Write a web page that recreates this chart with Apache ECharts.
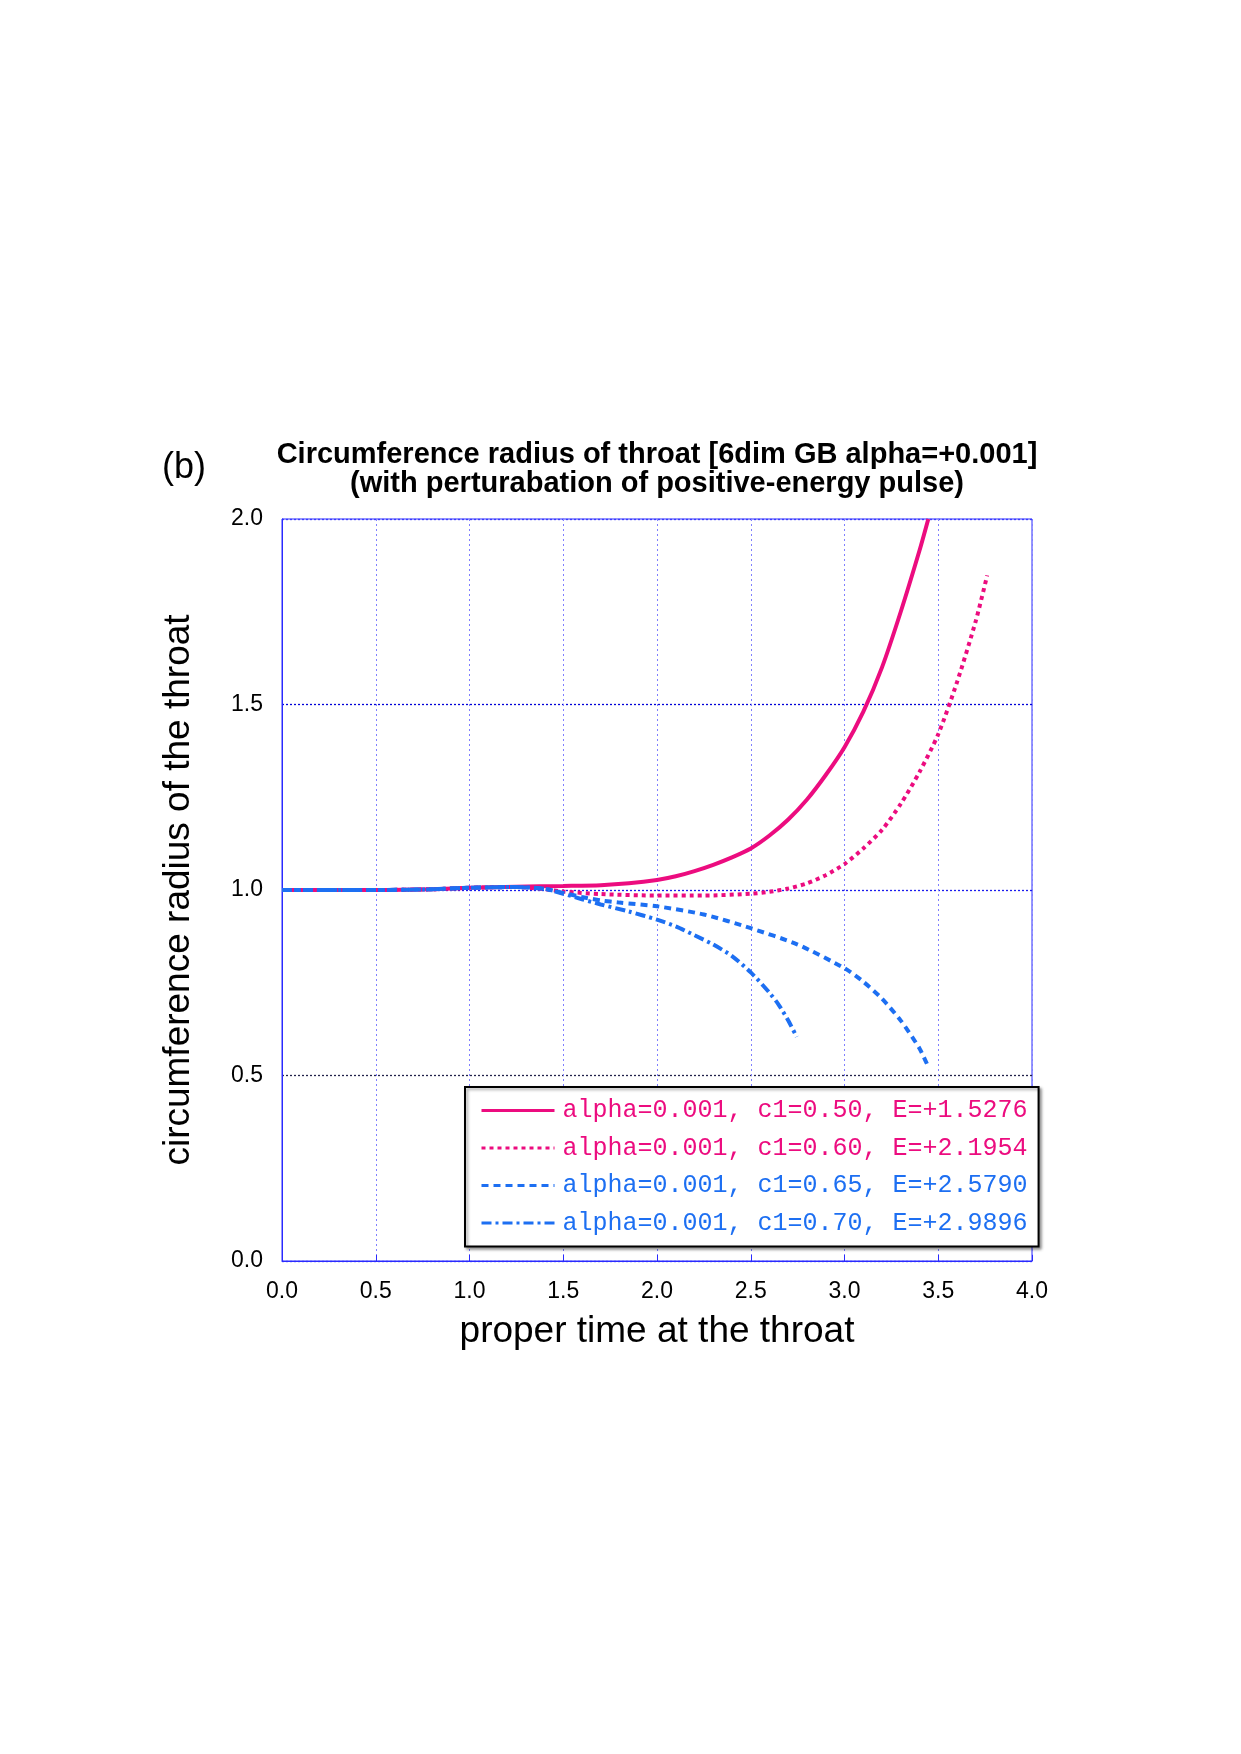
<!DOCTYPE html>
<html>
<head>
<meta charset="utf-8">
<script src="https://cdn.jsdelivr.net/npm/echarts@6/dist/echarts.min.js"></script>
<style>
  html, body { margin: 0; padding: 0; background: #fff; }
  #chart { width: 1241px; height: 1754px; }
</style>
</head>
<body>
<div id="chart"></div>
<script>
// eixo x: tempo próprio na garganta
const xTicks = [0, 0.5, 1.0, 1.5, 2.0, 2.5, 3.0, 3.5, 4.0];
const yTicks = [0, 0.5, 1.0, 1.5, 2.0];

const names = [
  'alpha=0.001, c1=0.50, E=+1.5276',
  'alpha=0.001, c1=0.60, E=+2.1954',
  'alpha=0.001, c1=0.65, E=+2.5790',
  'alpha=0.001, c1=0.70, E=+2.9896'
];

// c1 = 0.50 (linha cheia)
const t050 = [0, 0.5, 0.8, 1.0, 1.25, 1.5, 1.7, 1.85, 2.0, 2.1, 2.2, 2.3, 2.4, 2.5, 2.6, 2.7, 2.8, 2.9, 3.0, 3.1, 3.2, 3.3, 3.4, 3.447];
const r050 = [1.0, 1.0, 1.002, 1.006, 1.009, 1.011, 1.013, 1.018, 1.027, 1.037, 1.051, 1.068, 1.088, 1.112, 1.147, 1.19, 1.244, 1.31, 1.385, 1.48, 1.6, 1.75, 1.915, 2.0];

// c1 = 0.60 (pontilhada)
const t060 = [0, 0.5, 0.8, 1.0, 1.25, 1.4, 1.5, 1.7, 2.0, 2.25, 2.5, 2.6, 2.7, 2.8, 2.9, 3.0, 3.1, 3.2, 3.3, 3.4, 3.5, 3.6, 3.7, 3.761];
const r060 = [1.0, 1.0, 1.002, 1.006, 1.008, 1.002, 0.996, 0.989, 0.985, 0.985, 0.99, 0.995, 1.004, 1.018, 1.04, 1.07, 1.112, 1.162, 1.232, 1.318, 1.42, 1.56, 1.725, 1.848];

// c1 = 0.65 (tracejada)
const t065 = [0, 0.5, 0.8, 1.0, 1.25, 1.4, 1.5, 1.6, 1.7, 1.8, 2.0, 2.25, 2.5, 2.75, 3.0, 3.1, 3.2, 3.3, 3.4, 3.44];
const r065 = [1.0, 1.0, 1.002, 1.006, 1.008, 1.003, 0.992, 0.981, 0.972, 0.966, 0.956, 0.934, 0.897, 0.853, 0.789, 0.753, 0.707, 0.648, 0.573, 0.531];

// c1 = 0.70 (traço-ponto)
const t070 = [0, 0.5, 0.8, 1.0, 1.25, 1.4, 1.5, 1.6, 1.7, 1.85, 2.0, 2.1, 2.2, 2.3, 2.4, 2.5, 2.6, 2.65, 2.7, 2.745];
const r070 = [1.0, 1.0, 1.002, 1.006, 1.008, 1.003, 0.99, 0.975, 0.961, 0.942, 0.92, 0.902, 0.878, 0.853, 0.822, 0.778, 0.723, 0.69, 0.648, 0.604];

const pink = '#ec0c7f';
const blue = '#1d6ff2';

const zip = (xs, ys) => xs.map((x, i) => [x, ys[i]]);

const makeSeries = (name, xs, ys, color, type) => ({
  name: name,
  type: 'line',
  data: zip(xs, ys),
  showSymbol: false,
  symbol: 'none',
  smooth: 0.25,
  lineStyle: { color: color, width: 4, type: type },
  itemStyle: { color: color },
  z: 3
});

const chart = echarts.init(document.getElementById('chart'), null, { renderer: 'canvas' });

chart.setOption({
  animation: false,
  backgroundColor: '#fff',
  title: {
    text: 'Circumference radius of throat [6dim GB alpha=+0.001]\n(with perturabation of positive-energy pulse)',
    left: 657,
    top: 440,
    textAlign: 'center',
    padding: 0,
    textStyle: {
      fontFamily: 'Liberation Sans',
      fontWeight: 'bold',
      fontSize: 29,
      lineHeight: 29,
      color: '#000'
    }
  },
  graphic: [
    {
      type: 'text',
      left: 162,
      top: 450,
      style: { text: '(b)', font: '36px "Liberation Sans"', fill: '#000' }
    }
  ],
  grid: {
    left: 282,
    top: 519,
    width: 750,
    height: 742,
    show: true,
    borderColor: '#2a2aff',
    borderWidth: 1
  },
  legend: {
    orient: 'vertical',
    left: 465,
    top: 1087,
    padding: [11, 11, 11, 15],
    itemGap: 12.5,
    itemWidth: 73,
    itemHeight: 14,
    backgroundColor: '#fff',
    borderColor: '#000',
    borderWidth: 2,
    shadowColor: 'rgba(0,0,0,0.35)',
    shadowBlur: 3,
    shadowOffsetX: 2,
    shadowOffsetY: 2,
    itemStyle: { opacity: 0, borderWidth: 0 },
    lineStyle: { width: 3 },
    textStyle: { fontFamily: 'Liberation Mono', fontSize: 25, padding: [0, 0, 0, 3] },
    data: [
      { name: names[0], textStyle: { color: pink } },
      { name: names[1], textStyle: { color: pink } },
      { name: names[2], textStyle: { color: blue } },
      { name: names[3], textStyle: { color: blue } }
    ]
  },
  xAxis: {
    type: 'value',
    min: 0,
    max: 4,
    interval: 0.5,
    name: 'proper time at the throat',
    nameLocation: 'middle',
    nameGap: 71,
    nameTextStyle: { fontFamily: 'Liberation Sans', fontSize: 37, color: '#000', verticalAlign: 'middle' },
    axisLine: { show: true, lineStyle: { color: '#2a2aff', width: 1 } },
    axisTick: { show: true, inside: true, length: 6, lineStyle: { color: '#2a2aff' } },
    axisLabel: {
      margin: 19,
      fontFamily: 'Liberation Sans',
      fontSize: 23,
      color: '#000',
      formatter: (v) => v.toFixed(1)
    },
    splitLine: { show: true, lineStyle: { color: '#7f7fff', type: [2, 3], width: 1 } }
  },
  yAxis: {
    type: 'value',
    min: 0,
    max: 2,
    interval: 0.5,
    name: 'circumference radius of the throat',
    nameLocation: 'middle',
    nameGap: 103,
    nameRotate: 90,
    nameTextStyle: { fontFamily: 'Liberation Sans', fontSize: 37, color: '#000', verticalAlign: 'middle' },
    axisLine: { show: true, lineStyle: { color: '#2a2aff', width: 1 } },
    axisTick: { show: false },
    axisLabel: {
      margin: 19,
      fontFamily: 'Liberation Sans',
      fontSize: 23,
      color: '#000',
      formatter: (v) => v.toFixed(1)
    },
    splitLine: {
      show: true,
      lineStyle: {
        color: ['#2a2aff', '#22224a', '#1a1aee', '#0000d8', '#3a3aff'],
        type: [2, 2],
        width: 1.3
      }
    }
  },
  series: [
    makeSeries(names[0], t050, r050, pink, 'solid'),
    makeSeries(names[1], t060, r060, pink, [4, 4]),
    makeSeries(names[2], t065, r065, blue, [7, 5]),
    makeSeries(names[3], t070, r070, blue, [10, 4, 3, 4])
  ]
});
</script>
</body>
</html>
